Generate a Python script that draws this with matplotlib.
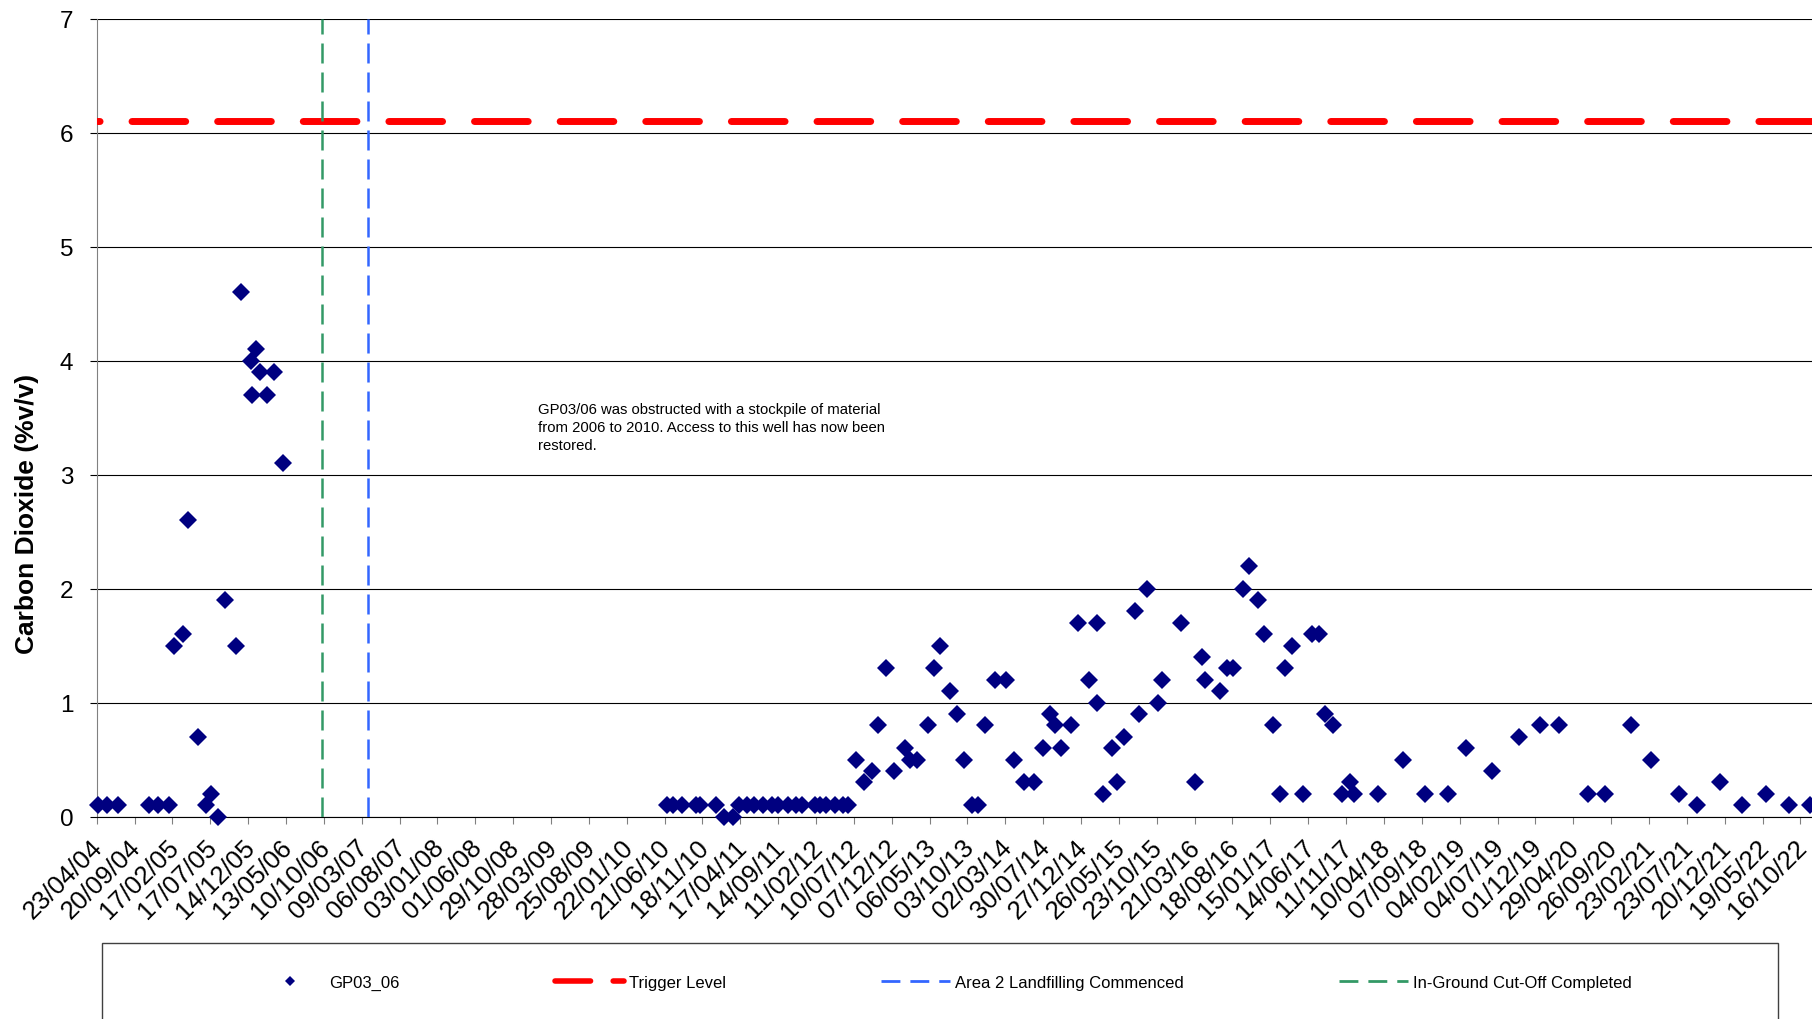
import numpy as np
import matplotlib
matplotlib.use("Agg")
import matplotlib.pyplot as plt
import matplotlib.dates as mdates
from matplotlib.lines import Line2D
from matplotlib.patches import Rectangle
from matplotlib.transforms import ScaledTranslation

plt.rcParams['font.family'] = ['Liberation Sans', 'DejaVu Sans']

# GP03_06 monitoring results, first period (before the stockpile)
dates_early = ["2004-04-27", "2004-06-02", "2004-07-15", "2004-11-17", "2004-12-23",
               "2005-02-03", "2005-02-23", "2005-03-31", "2005-04-21", "2005-05-28",
               "2005-06-30", "2005-07-19", "2005-08-18", "2005-09-14", "2005-10-27",
               "2005-11-17", "2005-12-24", "2005-12-31", "2006-01-13", "2006-01-31",
               "2006-02-26", "2006-03-28", "2006-04-30"]
co2_early = [0.1, 0.1, 0.1, 0.1, 0.1,
             0.1, 1.5, 1.6, 2.6, 0.7,
             0.1, 0.2, 0.0, 1.9, 1.5,
             4.6, 4.0, 3.7, 4.1, 3.9,
             3.7, 3.9, 3.1]

# after access was restored
dates_late = ["2010-06-29", "2010-07-25", "2010-08-28", "2010-10-23", "2010-11-08",
              "2011-01-10", "2011-02-11", "2011-03-18", "2011-04-12", "2011-05-12",
              "2011-06-11", "2011-07-17", "2011-08-19", "2011-09-14", "2011-10-22",
              "2011-11-22", "2011-12-16", "2012-02-07", "2012-02-27", "2012-03-22",
              "2012-04-26", "2012-05-27", "2012-06-18", "2012-07-18", "2012-08-20",
              "2012-09-19", "2012-10-15", "2012-11-13", "2012-12-16", "2013-01-28",
              "2013-02-17", "2013-03-16", "2013-04-28", "2013-05-22", "2013-06-16",
              "2013-07-26", "2013-08-21", "2013-09-19", "2013-10-20", "2013-11-15",
              "2013-12-11", "2014-01-20", "2014-03-04", "2014-04-07", "2014-05-16",
              "2014-06-25", "2014-07-30", "2014-08-24", "2014-09-15", "2014-10-10",
              "2014-11-18", "2014-12-16", "2015-01-26", "2015-02-27", "2015-02-28",
              "2015-03-24", "2015-04-27", "2015-05-19", "2015-06-15", "2015-07-29",
              "2015-08-15", "2015-09-16", "2015-10-29", "2015-11-11", "2016-01-27",
              "2016-03-23", "2016-04-21", "2016-05-02", "2016-06-30", "2016-07-26",
              "2016-08-21", "2016-09-27", "2016-10-21", "2016-11-28", "2016-12-21",
              "2017-01-24", "2017-02-22", "2017-03-15", "2017-04-11", "2017-05-25",
              "2017-06-28", "2017-07-26", "2017-08-21", "2017-09-19", "2017-10-26",
              "2017-11-26", "2017-12-12", "2018-03-19", "2018-06-26", "2018-09-21",
              "2018-12-19", "2019-03-01", "2019-06-13", "2019-09-27", "2019-12-18",
              "2020-03-02", "2020-06-27", "2020-09-03", "2020-12-13", "2021-03-03",
              "2021-06-21", "2021-08-31", "2021-12-02", "2022-02-28", "2022-06-02",
              "2022-08-31", "2022-11-23"]
co2_late = [0.1, 0.1, 0.1, 0.1, 0.1,
            0.1, 0.0, 0.0, 0.1, 0.1,
            0.1, 0.1, 0.1, 0.1, 0.1,
            0.1, 0.1, 0.1, 0.1, 0.1,
            0.1, 0.1, 0.1, 0.5, 0.3,
            0.4, 0.8, 1.3, 0.4, 0.6,
            0.5, 0.5, 0.8, 1.3, 1.5,
            1.1, 0.9, 0.5, 0.1, 0.1,
            0.8, 1.2, 1.2, 0.5, 0.3,
            0.3, 0.6, 0.9, 0.8, 0.6,
            0.8, 1.7, 1.2, 1.7, 1.0,
            0.2, 0.6, 0.3, 0.7, 1.8,
            0.9, 2.0, 1.0, 1.2, 1.7,
            0.3, 1.4, 1.2, 1.1, 1.3,
            1.3, 2.0, 2.2, 1.9, 1.6,
            0.8, 0.2, 1.3, 1.5, 0.2,
            1.6, 1.6, 0.9, 0.8, 0.2,
            0.3, 0.2, 0.2, 0.5, 0.2,
            0.2, 0.6, 0.4, 0.7, 0.8,
            0.8, 0.2, 0.2, 0.8, 0.5,
            0.2, 0.1, 0.3, 0.1, 0.2,
            0.1, 0.1]

trigger_level = 6.1
cutoff_date = "2006-10-01"      # In-Ground Cut-Off Completed
landfill_date = "2007-04-03"    # Area 2 Landfilling Commenced

tick_start = "2004-04-23"
tick_step_days = 150
n_ticks = 46
x_end = "2022-12-01"

note = ("GP03/06 was obstructed with a stockpile of material\n"
        "from 2006 to 2010. Access to this well has now been\n"
        "restored.")

W, H = 1812, 1020
fig = plt.figure(figsize=(W / 100, H / 100), dpi=100)
ax = fig.add_axes([96.7 / W, 202.5 / H, 1 - 96.7 / W, 798 / H])

dates = np.array(dates_early + dates_late, dtype="datetime64[D]")
co2 = co2_early + co2_late

navy = "#000080"
red = "#ff0000"
blue = "#3366ff"
green = "#339966"

ax.axhline(trigger_level, color=red, lw=5, ls=(7.36, (7.73, 4.6)),
           dash_capstyle="round", zorder=3)
ax.axvline(np.datetime64(landfill_date), color=blue, lw=1.8, ls=(0, (8, 3.6)), zorder=4)
ax.axvline(np.datetime64(cutoff_date), color=green, lw=1.8, ls=(0, (8, 3.6)), zorder=4)
ax.plot(dates, co2, ls="none", marker="D", ms=9, mew=0, color=navy,
        clip_on=False, zorder=5)

ax.set_xlim(np.datetime64(tick_start), np.datetime64(x_end))
ax.set_ylim(0, 7)
ax.set_yticks(range(8))
ticks = np.datetime64(tick_start) + np.arange(n_ticks) * tick_step_days
ax.set_xticks(ticks)
ax.xaxis.set_major_formatter(mdates.DateFormatter("%d/%m/%y"))

ax.grid(axis="y", color="black", lw=0.8)
ax.set_axisbelow(True)
ax.tick_params(axis="x", length=5.3, color="#808080", pad=8, labelsize=18.5)
ax.tick_params(axis="y", length=5.3, pad=11.5, labelsize=17.5)
ax.spines["top"].set_visible(False)
ax.spines["right"].set_visible(False)
ax.spines["left"].set_color("#808080")
ax.spines["bottom"].set_linewidth(0.8)

# rotated date labels, nudged a little left
shift = ScaledTranslation(-6 / 100, 0, fig.dpi_scale_trans)
for lab in ax.get_xticklabels():
    lab.set_rotation(45)
    lab.set_ha("right")
    lab.set_va("top")
    lab.set_rotation_mode("anchor")
    lab.set_transform(lab.get_transform() + shift)

ax.set_ylabel("Carbon Dioxide (%v/v)", fontsize=19, fontweight="bold")
ax.yaxis.set_label_coords(39 / W, 1 - 513.5 / H, transform=fig.transFigure)

fig.text(538 / W, 1 - 403 / H, note, fontsize=10.7, ha="left", va="top",
         linespacing=1.35)

# legend
handles = [
    Line2D([], [], ls="none", marker="D", ms=5, mew=0, color=navy),
    Line2D([], [], color=red, lw=4, ls=(0, (6.4, 4.07)), dash_capstyle="round"),
    Line2D([], [], color=blue, lw=2, ls=(0, (6.8, 3.6))),
    Line2D([], [], color=green, lw=2, ls=(0, (6.8, 3.6))),
]
labels = ["GP03_06", "Trigger Level", "Area 2 Landfilling Commenced",
          "In-Ground Cut-Off Completed"]
fig.legend(handles, labels, loc="center left", bbox_to_anchor=(255 / W, 1 - 983.3 / H),
           ncol=4, frameon=False, fontsize=12, handlelength=4.14, handletextpad=0.32,
           columnspacing=9.3, borderpad=0, borderaxespad=0)
fig.add_artist(Rectangle((102 / W, -0.05), (1777.7 - 102) / W, 0.05 + 75.7 / H,
                         transform=fig.transFigure, fill=False, edgecolor="#404040", lw=1))

fig.savefig("out.png", dpi=100)
